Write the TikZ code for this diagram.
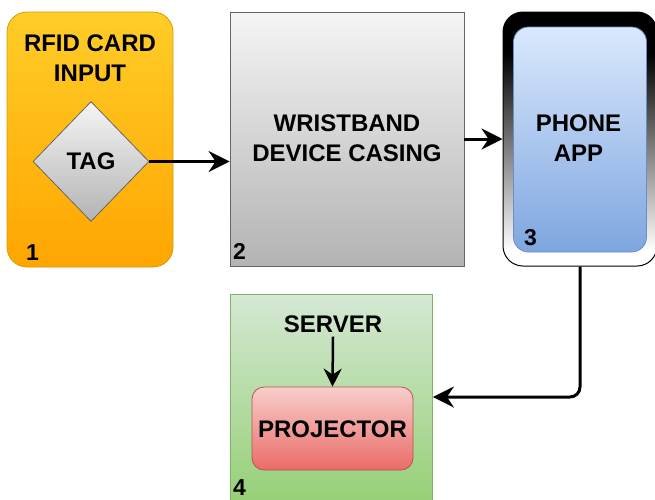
\documentclass[tikz,border=0pt]{standalone}
\usepackage{fontspec}
\setmainfont{Liberation Sans}
\usetikzlibrary{shapes.geometric,arrows.meta}

\definecolor{orangeTop}{HTML}{FFCD28}
\definecolor{orangeBot}{HTML}{FFA500}
\definecolor{orangeLine}{HTML}{D79B00}
\definecolor{grayTop}{HTML}{F5F5F5}
\definecolor{grayBot}{HTML}{B3B3B3}
\definecolor{grayLine}{HTML}{666666}
\definecolor{blueTop}{HTML}{DAE8FC}
\definecolor{blueBot}{HTML}{7EA6E0}
\definecolor{blueLine}{HTML}{6C8EBF}
\definecolor{greenTop}{HTML}{D5E8D4}
\definecolor{greenBot}{HTML}{97D077}
\definecolor{greenLine}{HTML}{82B366}
\definecolor{redTop}{HTML}{F8CECC}
\definecolor{redBot}{HTML}{EA6B66}
\definecolor{redLine}{HTML}{B85450}

% phone body: black at the top, fading to white near the base
% (the path's box maps onto the 25bp..75bp band of the shading)
\pgfdeclareverticalshading{phonebody}{100bp}{%
  color(0bp)=(white); color(28bp)=(white); color(50bp)=(black!55); color(67bp)=(black); color(100bp)=(black)}

\tikzset{
  lbl/.style={font=\fontsize{24}{30}\selectfont\bfseries, align=center, inner sep=0pt},
  num/.style={font=\fontsize{23}{23}\selectfont\bfseries, anchor=base west, inner sep=0pt},
  block/.style={draw, line width=0.8pt, inner sep=0pt},
  arr/.style={line width=3pt, -{Stealth[length=21pt, width=21pt, inset=7pt]}},
}

\begin{document}
\begin{tikzpicture}[x=1pt, y=-1pt]
\useasboundingbox (0,0) rectangle (655,499);

% 1: card reader
\node[block, rounded corners=20pt, draw=orangeLine, top color=orangeTop, bottom color=orangeBot,
      minimum width=166pt, minimum height=255pt] (card) at (90,139.5) {};
\node[lbl] (cardtxt) at (90,58) {RFID CARD\\INPUT};
\node[diamond, draw=grayLine, line width=0.8pt, top color=grayTop, bottom color=grayBot,
      minimum width=116pt, minimum height=120pt, inner sep=0pt] (tag) at (91,161.5) {};
\node[lbl] (tagtxt) at (91,161.5) {TAG};
\node[num] (n1) at (26,260) {1};

% 2: wristband casing
\node[block, draw=grayLine, top color=grayTop, bottom color=grayBot,
      minimum width=234pt, minimum height=254pt] (casing) at (347,139) {};
\node[lbl] (casingtxt) at (347,138.5) {WRISTBAND\\DEVICE CASING};
\node[num] (n2) at (233,259) {2};

% 3: phone
\node[draw=black, line width=1pt, rounded corners=20pt, shading=phonebody,
      minimum width=154pt, minimum height=254pt, inner sep=0pt] (phone) at (580,139) {};
\node[block, rounded corners=15pt, draw=blueLine, top color=blueTop, bottom color=blueBot,
      minimum width=133pt, minimum height=225pt] (screen) at (580,139.5) {};
\node[lbl] (phonetxt) at (578.5,138.5) {PHONE\\APP};
\node[num] (n3) at (524,245) {3};

% 4: display unit
\node[block, draw=greenLine, top color=greenTop, bottom color=greenBot,
      minimum width=202pt, minimum height=206pt] (display) at (331.5,397) {};
\node[lbl] (server) at (333,324) {SERVER};
\node[block, rounded corners=12pt, draw=redLine, top color=redTop, bottom color=redBot,
      minimum width=161pt, minimum height=83pt] (projector) at (332.5,428.5) {};
\node[lbl] (projtxt) at (332.5,429) {PROJECTOR};
\node[num] (n4) at (233,495) {4};

% connectors
\draw[arr] (tag.east) -- (tag.east -| casing.west);
\draw[arr] (casing.east) -- (phone.west);
\draw[arr, rounded corners=10pt] (phone.south) |- (display.east);
\draw[line width=2.5pt, -{Stealth[length=18pt, width=18pt, inset=6pt]}]
  (server.south) ++(0,4) -- (projector.north);
\end{tikzpicture}
\end{document}
